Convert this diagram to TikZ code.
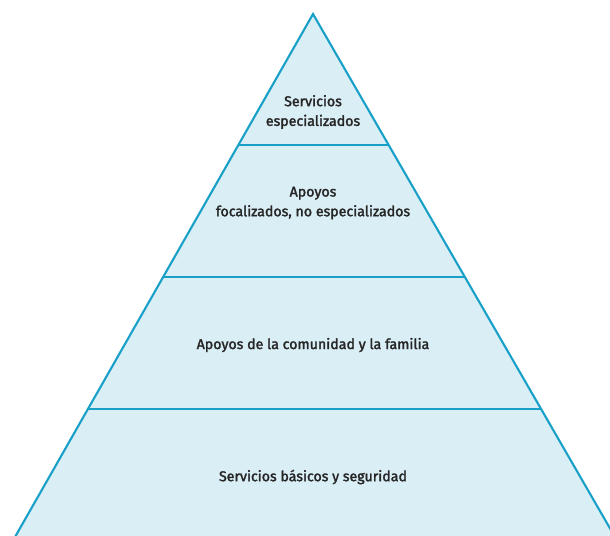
\documentclass[tikz,border=0pt]{standalone}
\usepackage{fontspec}
\setmainfont{Fira Sans}
\newfontfamily\levelfont{Fira Sans}[FakeBold=2]
\usetikzlibrary{calc}
\definecolor{pyrfill}{HTML}{DAEEF5}
\definecolor{pyrline}{HTML}{19A0C8}

\begin{document}
\begin{tikzpicture}[x=0.025cm,y=-0.025cm,thick,level label/.style={align=center,font=\levelfont\fontsize{10.1}{14}\selectfont,text=black!85}]

	%fix the page to the size of the reference
	\useasboundingbox (0,0) rectangle (610,535);

	%the outline of the pyramid
	\begin{scope}
		\coordinate (apex) at (313,14);
		\coordinate (bl) at (15,537);
		\coordinate (br) at (615,537);
		\filldraw[fill=pyrfill, draw=pyrline, line width=1.5pt, line join=miter] (bl) -- (apex) -- (br);
	\end{scope}

	%the three levels that cut it
	\begin{scope}
		\foreach \t in {0.2505,0.5029,0.7553}
			\draw[pyrline, line width=1.5pt] ($(apex)!\t!(bl)$) -- ($(apex)!\t!(br)$);
	\end{scope}

	%labels of the levels, top to bottom
	\begin{scope}
		\node[level label] (1) at (313,112) {Servicios\\especializados};
		\node[level label] (2) at (313,203) {Apoyos\\focalizados, no especializados};
		\node[level label] (3) at (313,345) {Apoyos de la comunidad y la familia};
		\node[level label] (4) at (313,477) {Servicios básicos y seguridad};
	\end{scope}
\end{tikzpicture}
\end{document}
